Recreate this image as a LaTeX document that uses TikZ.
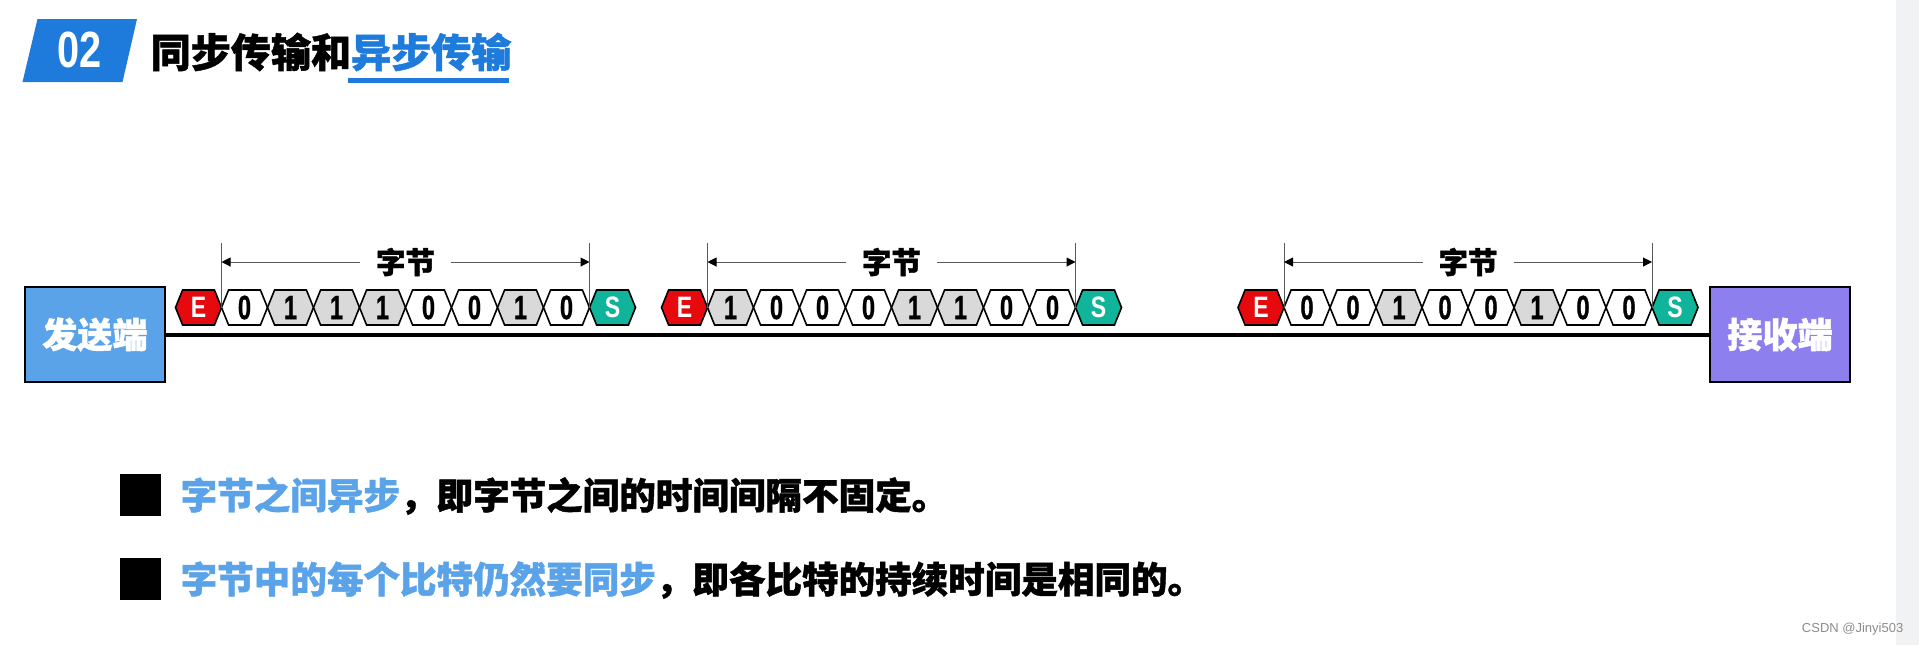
\documentclass[tikz,border=0pt]{standalone}
\usepackage{fontspec}
\setmainfont{Liberation Sans}
\newfontfamily\cjk{Noto Sans CJK SC}[BoldFeatures={FakeBold=1.2}]
\newfontfamily\narrow[FakeStretch=0.78]{Liberation Sans}
\newfontfamily\digits[FakeStretch=0.7, FakeBold=0.8]{Liberation Sans}
\usepackage{tikz}
\usetikzlibrary{arrows.meta,positioning,shapes.symbols}
\definecolor{TitleBlue}{HTML}{1E7BDC}
\definecolor{SendBlue}{HTML}{5BA3E9}
\definecolor{RecvPurple}{HTML}{8E7FEF}
\definecolor{EndRed}{HTML}{E60A0E}
\definecolor{StartTeal}{HTML}{10B49A}
\definecolor{StripGray}{HTML}{F1F2F4}

\begin{document}
\begin{tikzpicture}[
  x=0.1mm, y=-0.1mm,
  hexbox/.style={signal, signal to=east and west, signal pointer angle=136,
    draw, line width=0.16mm, minimum width=4.6mm, minimum height=3.5mm,
    inner sep=0pt, outer sep=0pt, font=\digits\bfseries\fontsize{9.6pt}{9.6pt}\selectfont},
  zerobit/.style={hexbox, fill=white},
  onebit/.style={hexbox, fill=black!15},
  endbit/.style={hexbox, fill=EndRed, text=white,
    font=\narrow\bfseries\fontsize{8.4pt}{8.4pt}\selectfont},
  startbit/.style={endbit, fill=StartTeal},
  station/.style={draw, line width=0.18mm, minimum width=14mm, minimum height=9.5mm,
    text=white, font=\cjk\bfseries\fontsize{10pt}{10pt}\selectfont},
  tick/.style={black!65, line width=0.1mm},
  span/.style={tick, {Triangle[length=0.9mm,width=0.9mm,black]}-{Triangle[length=0.9mm,width=0.9mm,black]}},
  bytelabel/.style={fill=white, text=black, inner xsep=1.6mm, inner ysep=0.6mm,
    font=\cjk\bfseries\fontsize{8.4pt}{8.4pt}\selectfont},
  bullet/.style={fill=black, minimum width=4.1mm, minimum height=4.2mm, inner sep=0pt},
  note/.style={anchor=west, inner sep=0pt, font=\cjk\bfseries\fontsize{10.4pt}{10.4pt}\selectfont},
  node distance=0pt
]
\useasboundingbox (0,0) rectangle (1919,645);
\fill[StripGray] (1896,0) rectangle (1919,645);

% title
\fill[TitleBlue] (37.5,19) -- (137,19) -- (122.5,82) -- (22.5,82) -- cycle;
\node[text=white, font=\narrow\bfseries\fontsize{14.5pt}{14.5pt}\selectfont] (num) at (79.5,50) {02};
\node[anchor=west, inner sep=0pt, font=\cjk\bfseries\fontsize{11.4pt}{11.4pt}\selectfont] (title) at (150,52)
  {同步传输和\textcolor{TitleBlue}{异步传输}};
\fill[TitleBlue] (348,78) rectangle (509,83);

% sender, receiver and the line
\node[station, fill=SendBlue] (tx) at (95,334.5) {发送端};
\node[station, fill=RecvPurple] (rx) at (1780,334.5) {接收端};
\draw[line width=0.4mm] (tx) -- (rx);

% first byte
\node[endbit] (e1) at (198.5,307.5) {E};
\node[zerobit, right=of e1] (a1) {0};
\node[onebit, right=of a1] (a2) {1};
\node[onebit, right=of a2] (a3) {1};
\node[onebit, right=of a3] (a4) {1};
\node[zerobit, right=of a4] (a5) {0};
\node[zerobit, right=of a5] (a6) {0};
\node[onebit, right=of a6] (a7) {1};
\node[zerobit, right=of a7] (a8) {0};
\node[startbit, right=of a8] (s1) {S};
\coordinate[above=6.5mm of e1.east] (tl1);
\coordinate[above=6.5mm of a8.east] (tr1);
\draw[tick] (e1.east) -- (tl1);
\draw[tick] (a8.east) -- (tr1);
\draw[span] ([yshift=-1.95mm]tl1) -- ([yshift=-1.95mm]tr1) node[midway, bytelabel] (w1) {字节};

% second byte
\node[endbit] (e2) at (684.5,307.5) {E};
\node[onebit, right=of e2] (b1) {1};
\node[zerobit, right=of b1] (b2) {0};
\node[zerobit, right=of b2] (b3) {0};
\node[zerobit, right=of b3] (b4) {0};
\node[onebit, right=of b4] (b5) {1};
\node[onebit, right=of b5] (b6) {1};
\node[zerobit, right=of b6] (b7) {0};
\node[zerobit, right=of b7] (b8) {0};
\node[startbit, right=of b8] (s2) {S};
\coordinate[above=6.5mm of e2.east] (tl2);
\coordinate[above=6.5mm of b8.east] (tr2);
\draw[tick] (e2.east) -- (tl2);
\draw[tick] (b8.east) -- (tr2);
\draw[span] ([yshift=-1.95mm]tl2) -- ([yshift=-1.95mm]tr2) node[midway, bytelabel] (w2) {字节};

% third byte
\node[endbit] (e3) at (1261,307.5) {E};
\node[zerobit, right=of e3] (c1) {0};
\node[zerobit, right=of c1] (c2) {0};
\node[onebit, right=of c2] (c3) {1};
\node[zerobit, right=of c3] (c4) {0};
\node[zerobit, right=of c4] (c5) {0};
\node[onebit, right=of c5] (c6) {1};
\node[zerobit, right=of c6] (c7) {0};
\node[zerobit, right=of c7] (c8) {0};
\node[startbit, right=of c8] (s3) {S};
\coordinate[above=6.5mm of e3.east] (tl3);
\coordinate[above=6.5mm of c8.east] (tr3);
\draw[tick] (e3.east) -- (tl3);
\draw[tick] (c8.east) -- (tr3);
\draw[span] ([yshift=-1.95mm]tl3) -- ([yshift=-1.95mm]tr3) node[midway, bytelabel] (w3) {字节};

% notes
\node[bullet] (q1) at (140.5,495) {};
\node[note] (n1) at (180,496) {\textcolor{SendBlue}{字节之间异步}，即字节之间的时间间隔不固定。};
\node[bullet] (q2) at (140.5,579) {};
\node[note] (n2) at (180,580) {\textcolor{SendBlue}{字节中的每个比特仍然要同步}，即各比特的持续时间是相同的。};

\node[anchor=east, inner sep=0pt, text=black!45, font=\fontsize{3.7pt}{3.7pt}\selectfont] (mark) at (1904,629) {CSDN @Jinyi503};
\end{tikzpicture}
\end{document}
